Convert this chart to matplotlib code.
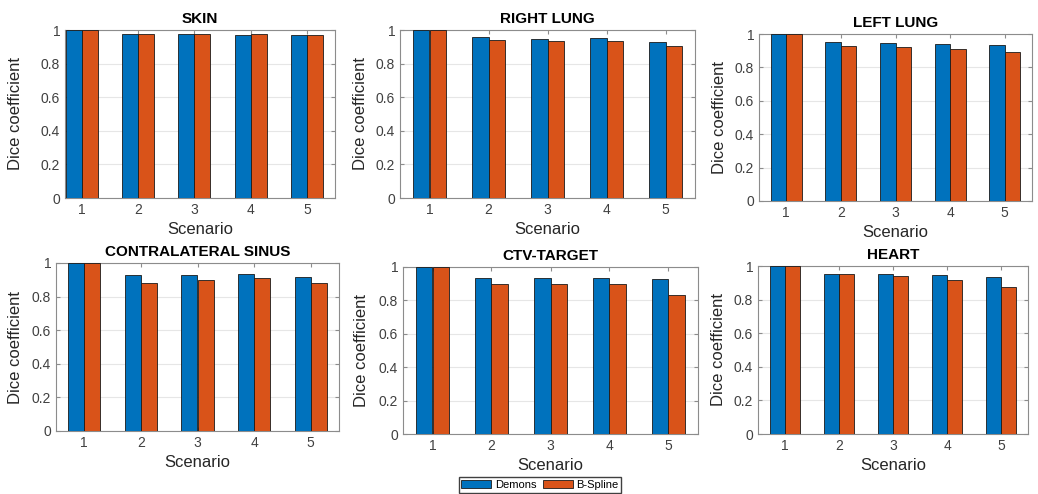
import numpy as np
import matplotlib
matplotlib.use("Agg")
import matplotlib.pyplot as plt

plt.rcParams['font.family'] = ['Liberation Sans', 'DejaVu Sans']

scenarios = [1, 2, 3, 4, 5]
titles = ["SKIN", "RIGHT LUNG", "LEFT LUNG",
          "CONTRALATERAL SINUS", "CTV-TARGET", "HEART"]

# Dice values
demons = [
    [1.0, 0.976, 0.976, 0.972, 0.972],
    [1.0, 0.958, 0.946, 0.950, 0.928],
    [1.0, 0.950, 0.946, 0.942, 0.934],
    [1.0, 0.928, 0.926, 0.932, 0.914],
    [1.0, 0.932, 0.936, 0.934, 0.928],
    [1.0, 0.952, 0.950, 0.944, 0.935],
]
bspline = [
    [1.0, 0.976, 0.975, 0.976, 0.972],
    [1.0, 0.942, 0.932, 0.932, 0.903],
    [1.0, 0.926, 0.924, 0.910, 0.892],
    [1.0, 0.882, 0.900, 0.912, 0.878],
    [1.0, 0.898, 0.896, 0.898, 0.835],
    [1.0, 0.950, 0.942, 0.917, 0.877],
]

BLUE = '#0072BD'
ORANGE = '#D95319'
W, H = 1038, 494

# axes boxes in pixels: left, right, top, bottom
boxes = [
    (65, 335, 30, 198),
    (400, 695, 30, 198),
    (759, 1032, 34, 201),
    (56, 339, 263, 431),
    (403, 698, 267, 434),
    (758, 1028, 266, 434),
]
xlims = [(0.7, 5.5)] + [(0.5, 5.5)] * 5
ylab_x = [-0.155, -0.108, -0.117, -0.117, -0.115, -0.118]

fig = plt.figure(figsize=(W / 100, H / 100), dpi=100)

bw = 0.2857
x = np.array(scenarios)
for i in range(6):
    l, r, t, b = boxes[i]
    ax = fig.add_axes([l / W, 1 - b / H, (r - l) / W, (b - t) / H])
    ax.bar(x - bw / 2, demons[i], bw, color=BLUE, edgecolor='#1a1a1a',
           linewidth=0.6, label='Demons', zorder=3)
    ax.bar(x + bw / 2, bspline[i], bw, color=ORANGE, edgecolor='#1a1a1a',
           linewidth=0.6, label='B-Spline', zorder=3)
    ax.set_xlim(*xlims[i])
    ax.set_ylim(0, 1)
    ax.set_xticks(scenarios)
    ax.set_yticks([0, 0.2, 0.4, 0.6, 0.8, 1])
    ax.set_yticklabels(['0', '0.2', '0.4', '0.6', '0.8', '1'])
    ax.grid(axis='y', color='#e6e6e6', linewidth=0.8, zorder=0)
    ax.tick_params(direction='in', length=3, colors='#8c8c8c',
                   labelcolor='#404040', labelsize=10, right=True, top=True)
    for s in ax.spines.values():
        s.set_color('#8c8c8c')
        s.set_linewidth(0.8)
    ax.set_title(titles[i], fontsize=11, fontweight='bold', pad=5)
    ax.set_xlabel('Scenario', fontsize=12, color='#262626', labelpad=4)
    ax.set_ylabel('Dice coefficient', fontsize=12, color='#262626')
    ax.yaxis.set_label_coords(ylab_x[i], 0.5)
    if i == 4:
        handles, labels = ax.get_legend_handles_labels()

fig.legend(handles, labels, loc='center', ncol=2,
           bbox_to_anchor=(540 / W, 1 - 485 / H), fontsize=8,
           handlelength=2.7, handleheight=0.8, handletextpad=0.3,
           columnspacing=0.6, borderpad=0.25, borderaxespad=0,
           fancybox=False, edgecolor='#404040', framealpha=1)

fig.savefig('out.png', dpi=100)
